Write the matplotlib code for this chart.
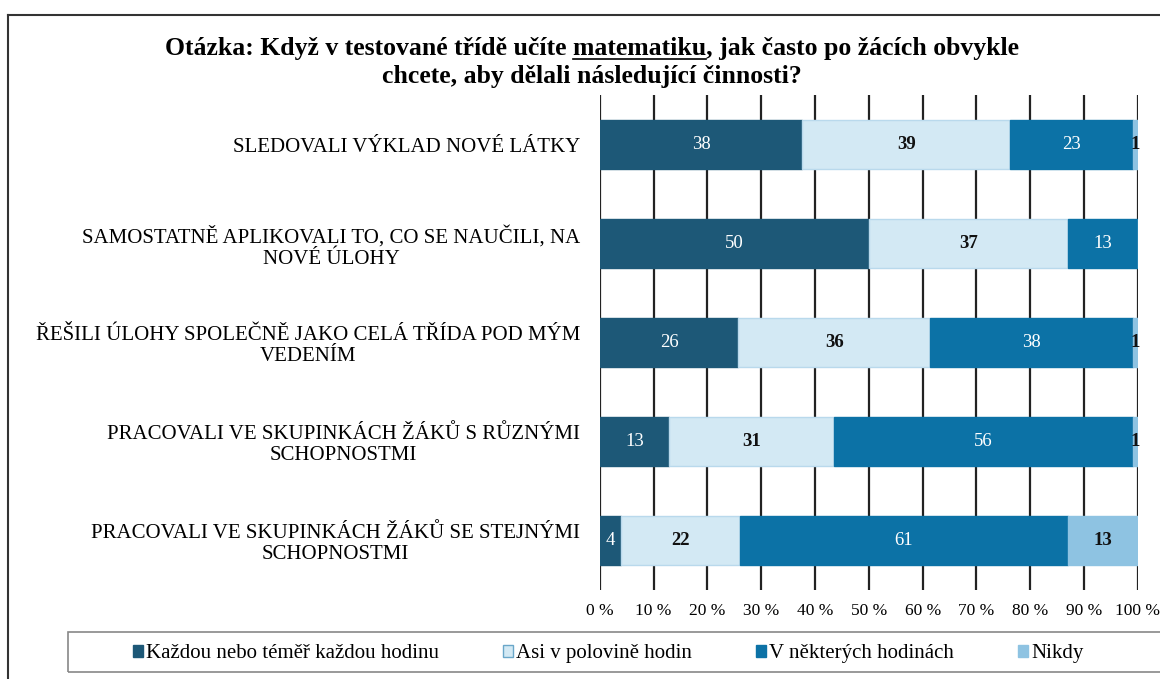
import matplotlib
matplotlib.use('Agg')
import matplotlib.pyplot as plt
from matplotlib.lines import Line2D
from matplotlib.patches import Patch, Rectangle

plt.rcParams['font.family'] = ['Liberation Serif', 'DejaVu Serif']

# data
categories = [
    'SLEDOVALI VÝKLAD NOVÉ LÁTKY',
    'SAMOSTATNĚ APLIKOVALI TO, CO SE NAUČILI, NA\nNOVÉ ÚLOHY',
    'ŘEŠILI ÚLOHY SPOLEČNĚ JAKO CELÁ TŘÍDA POD MÝM\nVEDENÍM',
    'PRACOVALI VE SKUPINKÁCH ŽÁKŮ S RŮZNÝMI\nSCHOPNOSTMI',
    'PRACOVALI VE SKUPINKÁCH ŽÁKŮ SE STEJNÝMI\nSCHOPNOSTMI',
]
series_names = ['Každou nebo téměř každou hodinu', 'Asi v polovině hodin',
                'V některých hodinách', 'Nikdy']
kazdou = [38, 50, 26, 13, 4]
polovina = [39, 37, 36, 31, 22]
nektere = [23, 13, 38, 56, 61]
nikdy = [1, 0, 1, 1, 13]
ticks = [0, 10, 20, 30, 40, 50, 60, 70, 80, 90, 100]

colors = ['#1d5877', '#d3e9f4', '#0c72a6', '#8ec3e2']
txt_colors = ['white', '#111111', 'white', '#111111']
txt_weights = ['normal', 'bold', 'normal', 'bold']

fig = plt.figure(figsize=(11.6, 6.79), dpi=100)
ax = fig.add_axes([0.517, 0.131, 0.464, 0.729])

data = [kazdou, polovina, nektere, nikdy]
totals = [sum(v) for v in zip(*data)]
left = [0.0] * len(categories)
for s, vals in enumerate(data):
    widths = [v / t * 100 for v, t in zip(vals, totals)]
    ax.barh(range(len(categories)), widths, left=left, height=0.5,
            color=colors[s], edgecolor='#b9d9ec' if s == 1 else colors[s],
            linewidth=1, zorder=3)
    for i, (v, w, l) in enumerate(zip(vals, widths, left)):
        if v > 0:
            ax.text(l + w / 2, i, str(v), ha='center', va='center', fontsize=13.5,
                    color=txt_colors[s] if w > 2 else '#111111',
                    fontweight=txt_weights[s] if w > 2 else 'bold', zorder=4)
    left = [l + w for l, w in zip(left, widths)]

ax.set_xlim(0, 100)
ax.set_ylim(4.5, -0.5)
ax.set_xticks(ticks)
ax.set_xticklabels([f'{t} %' for t in ticks], fontsize=12.5)
ax.set_yticks(range(len(categories)))
ax.set_yticklabels(categories, fontsize=15, multialignment='center', linespacing=1.15)
ax.tick_params(axis='x', length=0, pad=9)
ax.tick_params(axis='y', length=0, pad=14)
for sp in ax.spines.values():
    sp.set_visible(False)
ax.grid(axis='x', color='#222222', linewidth=1.6, zorder=0)
ax.set_axisbelow(True)

# title with underlined word
cx = 0.51
tsize = 18.5
line1 = 'Otázka: Když v testované třídě učíte matematiku, jak často po žácích obvykle'
t1 = fig.text(cx, 0.929, line1, ha='center', va='center', fontsize=tsize, fontweight='bold')
fig.text(cx, 0.887, 'chcete, aby dělali následující činnosti?', ha='center', va='center',
         fontsize=tsize, fontweight='bold')
fig.canvas.draw()
r = fig.canvas.get_renderer()
bb = t1.get_window_extent(r)
def width(s):
    t = fig.text(0, 0, s, fontsize=tsize, fontweight='bold')
    w = t.get_window_extent(r).width
    t.remove()
    return w
end = bb.x0 + width('Otázka: Když v testované třídě učíte matematiku')
start = end - width('matematiku')
W, H = fig.bbox.width, fig.bbox.height
uy = (bb.y0 + 1) / H
fig.add_artist(Line2D([start / W, end / W], [uy, uy], color='black', linewidth=1.2))

# outer frame
fig.add_artist(Line2D([0.007, 1.0], [0.978, 0.978], color='#333333', linewidth=1.5))
fig.add_artist(Line2D([0.007, 0.007], [0.0, 0.978], color='#333333', linewidth=1.5))

# legend box
fig.add_artist(Rectangle((0.0586, 0.0103), 0.96, 0.059, transform=fig.transFigure,
                         facecolor='none', edgecolor='#888888', linewidth=1.2))
handles = [Patch(facecolor=c, edgecolor='#6aa7c9' if i == 1 else c) for i, c in enumerate(colors)]
fig.legend(handles, series_names, loc='center left', bbox_to_anchor=(0.115, 0.037),
           ncol=4, fontsize=15, frameon=False, handlelength=0.45, handleheight=0.45,
           handletextpad=0.15, columnspacing=3.1, borderpad=0.0, borderaxespad=0.0)

fig.savefig('out.png', dpi=100)
